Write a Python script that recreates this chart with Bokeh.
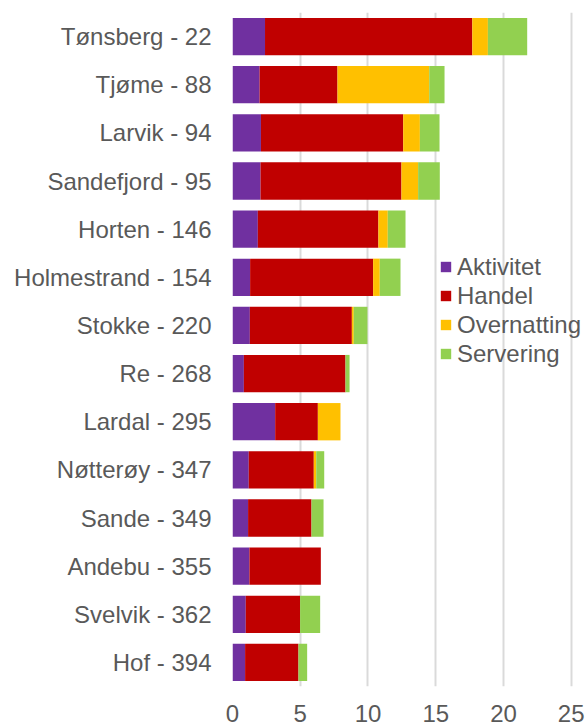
from bokeh.plotting import figure
from bokeh.models import ColumnDataSource, FixedTicker, Legend, LegendItem, FactorRange, Range1d
from bokeh.embed import file_html
from bokeh.resources import INLINE

categories = ["Tønsberg - 22", "Tjøme - 88", "Larvik - 94", "Sandefjord - 95", "Horten - 146",
              "Holmestrand - 154", "Stokke - 220", "Re - 268", "Lardal - 295", "Nøtterøy - 347",
              "Sande - 349", "Andebu - 355", "Svelvik - 362", "Hof - 394"]
aktivitet = [2.4, 2.0, 2.1, 2.07, 1.87, 1.3, 1.28, 0.84, 3.15, 1.2, 1.15, 1.25, 0.98, 0.93]
handel = [15.3, 5.75, 10.5, 10.4, 8.9, 9.08, 7.53, 7.5, 3.15, 4.8, 4.68, 5.27, 4.01, 3.94]
overnatting = [1.15, 6.77, 1.23, 1.23, 0.69, 0.49, 0.14, 0.0, 1.67, 0.18, 0.0, 0.0, 0.0, 0.0]
servering = [2.9, 1.13, 1.45, 1.6, 1.31, 1.53, 1.01, 0.3, 0.0, 0.59, 0.89, 0.0, 1.48, 0.64]
series_names = ["Aktivitet", "Handel", "Overnatting", "Servering"]
colors = ["#7030A0", "#C00000", "#FFC000", "#92D050"]
x_ticks = [0, 5, 10, 15, 20, 25]

src = ColumnDataSource(dict(cat=categories, Aktivitet=aktivitet, Handel=handel,
                            Overnatting=overnatting, Servering=servering))

FONT = "Liberation Sans"
TXT = "#595959"

p = figure(width=585, height=726,
           y_range=FactorRange(factors=categories[::-1]),
           x_range=Range1d(0, 25.98),
           output_backend="svg", toolbar_location=None,
           min_border_left=232, min_border_right=1,
           min_border_top=12, min_border_bottom=40)

rs = p.hbar_stack(series_names, y="cat", height=0.775, color=colors, source=src, line_color=None)

p.xaxis.ticker = FixedTicker(ticks=x_ticks)
for ax in (p.xaxis, p.yaxis):
    ax.axis_line_color = None
    ax.major_tick_line_color = None
    ax.minor_tick_line_color = None
    ax.major_label_text_font = FONT
    ax.major_label_text_font_size = "24px"
    ax.major_label_text_color = TXT
p.xaxis.major_label_standoff = 12
p.yaxis.major_label_standoff = 15

p.ygrid.grid_line_color = None
p.xgrid.grid_line_color = "#DADADA"
p.xgrid.grid_line_width = 2
p.outline_line_color = None

legend = Legend(items=[LegendItem(label=n, renderers=[r]) for n, r in zip(series_names, rs)],
                location=(207, 318), padding=0, margin=0,
                border_line_color=None, background_fill_alpha=0,
                glyph_width=13, glyph_height=13, label_standoff=5,
                label_height=29, spacing=0,
                label_text_font=FONT, label_text_font_size="24px", label_text_color=TXT)
p.add_layout(legend)

open("out.html", "w").write(file_html(p, INLINE))
